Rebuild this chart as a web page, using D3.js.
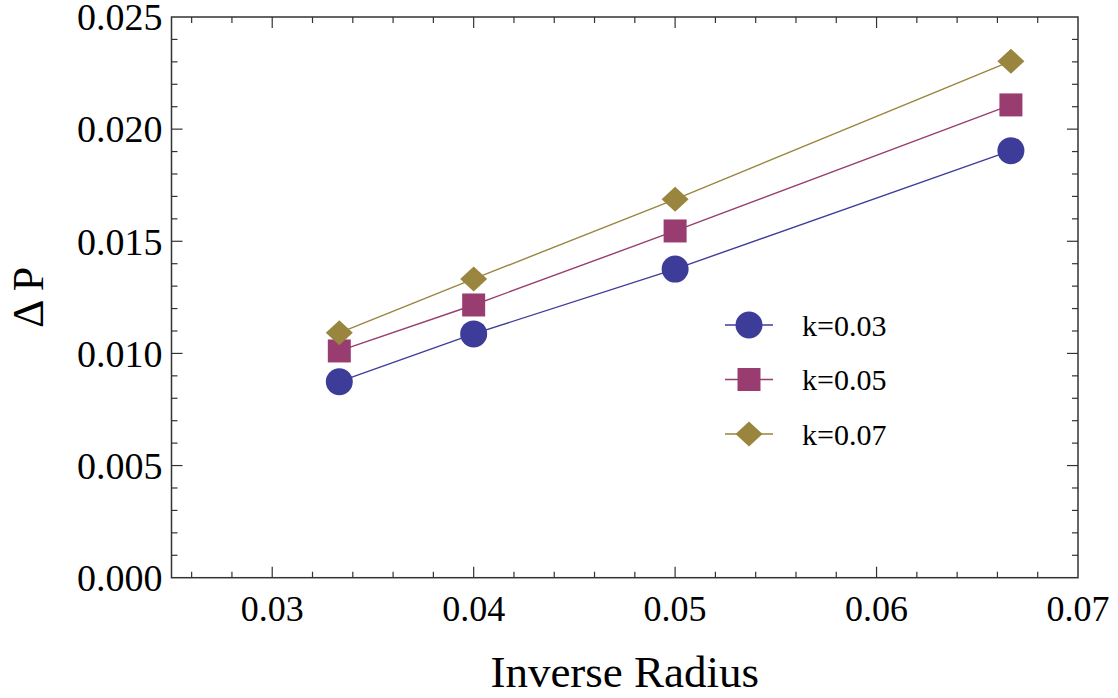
<!DOCTYPE html>
<html>
<head>
<meta charset="utf-8">
<script src="https://cdn.jsdelivr.net/npm/d3@7"></script>
<style>
  body { margin: 0; background: #fff; }
  text { font-family: "Liberation Serif", "Times New Roman", serif; fill: #000; }
</style>
</head>
<body>
<svg width="1118" height="698"></svg>
<script>
const svg = d3.select("svg");

// DATA
const inverseRadius = [0.03333, 0.04, 0.05, 0.06667];
const k003 = [0.00874, 0.01087, 0.01376, 0.01904];
const k005 = [0.01011, 0.01216, 0.01546, 0.02108];
const k007 = [0.01092, 0.01332, 0.01687, 0.02303];
const seriesNames = ["k=0.03", "k=0.05", "k=0.07"];
const xTickLabels = ["0.03", "0.04", "0.05", "0.06", "0.07"];
const yTickLabels = ["0.000", "0.005", "0.010", "0.015", "0.020", "0.025"];

// CONSTANTS
const margin = { top: 17, left: 171.5, right: 40, bottom: 120 };
const innerWidth = 1078 - margin.left;
const innerHeight = 577.7 - margin.top;
const colors = ["#3d3d99", "#993d71", "#99853d"];
const shapes = ["circle", "square", "diamond"];
const frameColor = "#333";

// SCALES
const xScale = d3.scaleLinear().domain([0.025, 0.07]).range([0, innerWidth]);
const yScale = d3.scaleLinear().domain([0, 0.025]).range([innerHeight, 0]);

const g = svg.append("g").attr("transform", `translate(${margin.left}, ${margin.top})`);

// minor + major ticks on all four sides (inside the frame)
const xMinor = d3.range(13, 36).map(i => i * 0.002).filter(v => v > 0.025 && v < 0.07);
const yMinor = d3.range(1, 25).map(i => i * 0.001);
const xMajor = xTickLabels.map(Number);
const yMajor = yTickLabels.map(Number);
const isMajor = (v, list) => list.some(m => Math.abs(m - v) < 1e-9);

const tickG = g.append("g").attr("stroke", frameColor).attr("stroke-width", 1.2);
xMinor.forEach(v => {
  const len = isMajor(v, xMajor) ? 11 : 6;
  const x = xScale(v);
  tickG.append("line").attr("x1", x).attr("x2", x).attr("y1", innerHeight).attr("y2", innerHeight - len);
  tickG.append("line").attr("x1", x).attr("x2", x).attr("y1", 0).attr("y2", len);
});
yMinor.forEach(v => {
  const len = isMajor(v, yMajor) ? 11 : 6;
  const y = yScale(v);
  tickG.append("line").attr("x1", 0).attr("x2", len).attr("y1", y).attr("y2", y);
  tickG.append("line").attr("x1", innerWidth).attr("x2", innerWidth - len).attr("y1", y).attr("y2", y);
});

// frame
g.append("rect")
  .attr("width", innerWidth)
  .attr("height", innerHeight)
  .attr("fill", "none")
  .attr("stroke", frameColor)
  .attr("stroke-width", 1.5);

// tick labels
g.selectAll(".xlab").data(xTickLabels).enter().append("text")
  .attr("class", "xlab")
  .attr("x", d => xScale(+d))
  .attr("y", innerHeight + 43)
  .attr("text-anchor", "middle")
  .attr("font-size", 36)
  .text(d => d);

g.selectAll(".ylab").data(yTickLabels).enter().append("text")
  .attr("class", "ylab")
  .attr("x", -9)
  .attr("y", d => yScale(+d))
  .attr("dy", "0.35em")
  .attr("text-anchor", "end")
  .attr("font-size", 38)
  .text(d => d);

// axis titles
svg.append("text")
  .attr("x", margin.left + innerWidth / 2)
  .attr("y", 687)
  .attr("text-anchor", "middle")
  .attr("font-size", 45)
  .text("Inverse Radius");

svg.append("text")
  .attr("transform", `translate(43, ${margin.top + innerHeight / 2}) rotate(-90)`)
  .attr("text-anchor", "middle")
  .attr("font-size", 44)
  .text("\u0394 P");

// markers
function drawMarker(sel, shape, color) {
  if (shape === "circle") {
    sel.append("circle").attr("r", 13.5).attr("fill", color);
  } else if (shape === "square") {
    sel.append("rect").attr("x", -11.5).attr("y", -11.5).attr("width", 23).attr("height", 23).attr("fill", color);
  } else {
    sel.append("path").attr("d", "M-13.5,0L0,-12.5L13.5,0L0,12.5Z").attr("fill", color);
  }
}

const allSeries = [k003, k005, k007];
const line = d3.line().x((d, i) => xScale(inverseRadius[i])).y(d => yScale(d));

allSeries.forEach((vals, s) => {
  g.append("path")
    .datum(vals)
    .attr("d", line)
    .attr("fill", "none")
    .attr("stroke", colors[s])
    .attr("stroke-width", 1.4);
});
allSeries.forEach((vals, s) => {
  vals.forEach((v, i) => {
    const m = g.append("g").attr("transform", `translate(${xScale(inverseRadius[i])}, ${yScale(v)})`);
    drawMarker(m, shapes[s], colors[s]);
  });
});

// legend
const legend = svg.append("g").attr("transform", "translate(725, 325)");
seriesNames.forEach((name, s) => {
  const row = legend.append("g").attr("transform", `translate(0, ${s * 54.5})`);
  row.append("line").attr("x1", 0).attr("x2", 48).attr("stroke", colors[s]).attr("stroke-width", 1.4);
  drawMarker(row.append("g").attr("transform", "translate(24, 0)"), shapes[s], colors[s]);
  row.append("text")
    .attr("x", 77)
    .attr("y", 0)
    .attr("dy", "0.35em")
    .attr("font-size", 30)
    .text(name);
});
</script>
</body>
</html>
